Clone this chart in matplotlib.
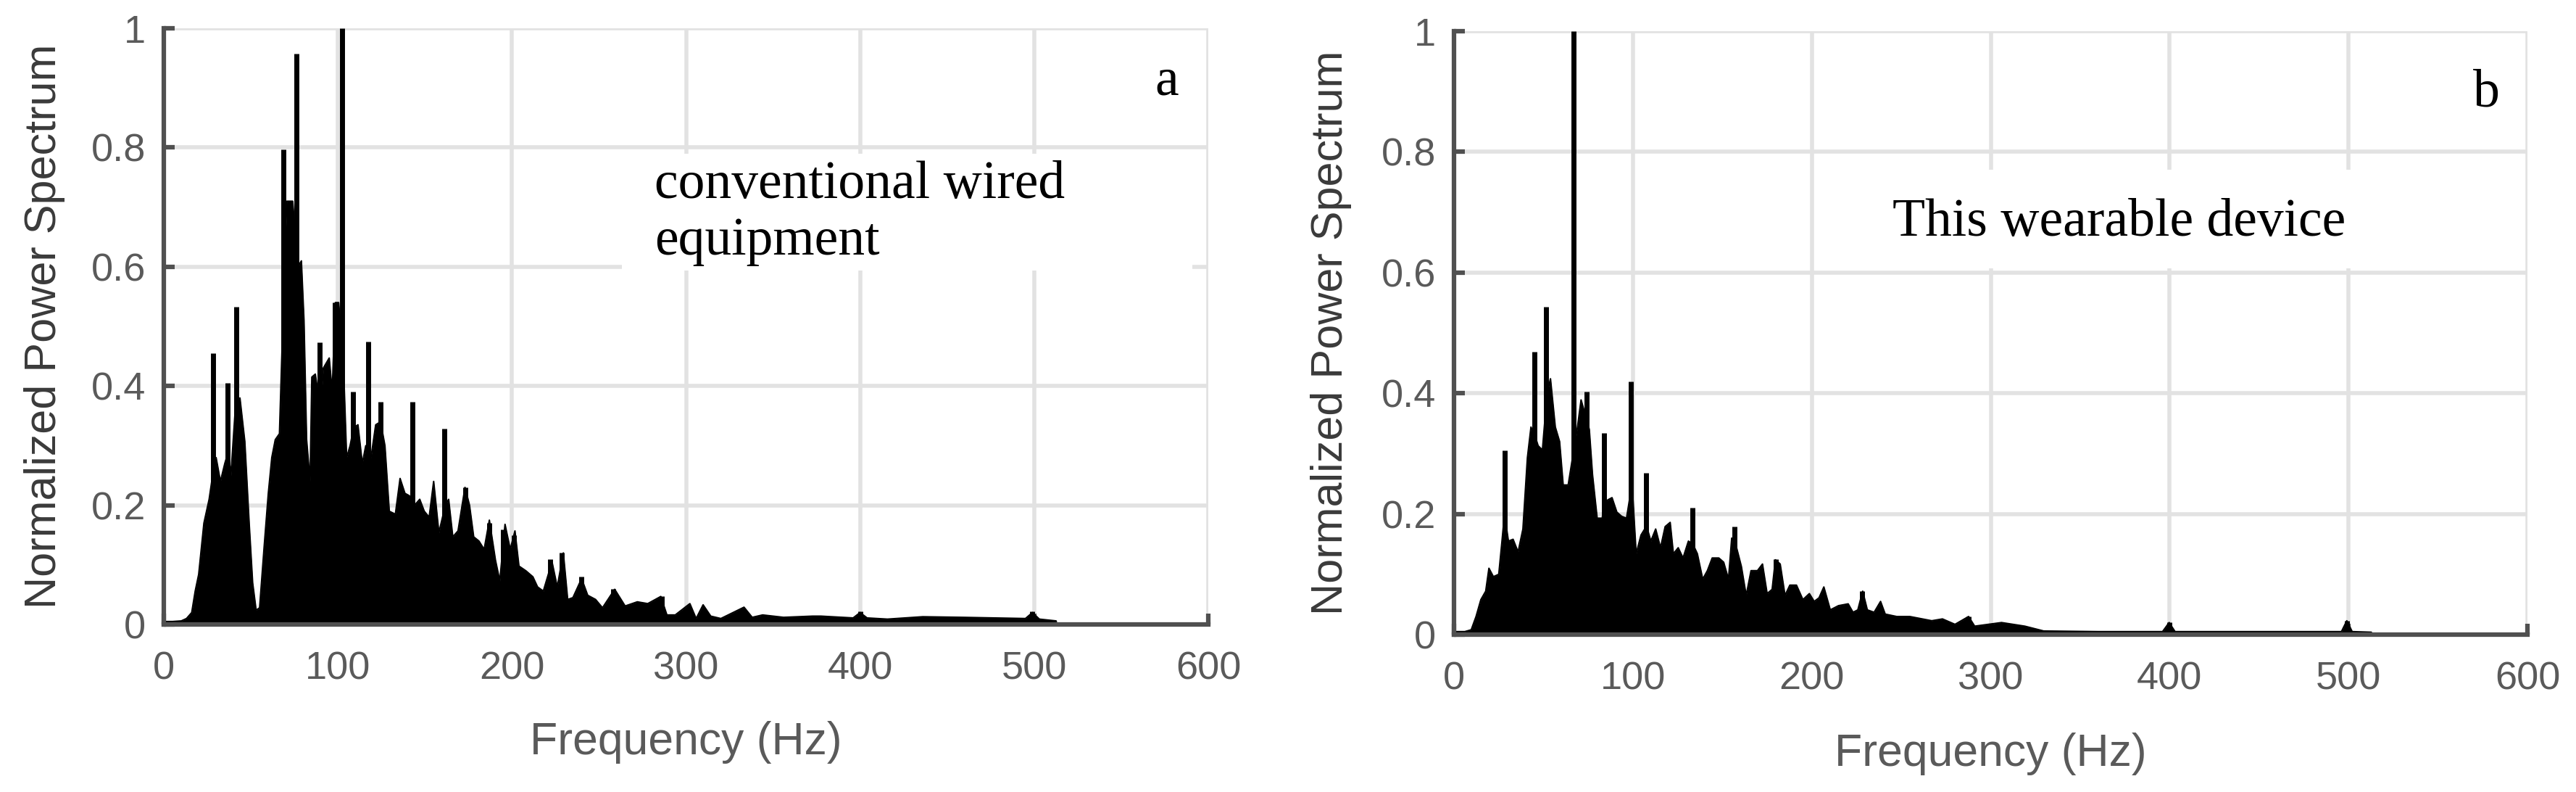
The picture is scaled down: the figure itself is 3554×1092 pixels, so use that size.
import matplotlib
matplotlib.use("Agg")
import matplotlib.pyplot as plt
from matplotlib.patches import Rectangle

# panel a: conventional wired equipment (envelope + narrow peaks)
freq_a = [0, 5, 10, 13, 16, 18, 20, 23, 26, 28, 30, 32.5, 35, 37, 38.5, 41, 43.7, 46.5,
          49, 51, 53, 55, 57.6, 60, 62, 64, 66.4, 68.8, 70.6, 74, 77, 79, 80.5, 82, 84,
          85, 87, 90, 91.6, 95, 96.7, 98.5, 100.4, 103, 105, 107, 109, 111.5, 114, 116,
          119, 121.7, 124.5, 127, 129.5, 133, 135.7, 138.5, 141, 144, 147, 149.6, 152.4,
          155, 158, 161.7, 163.6, 166, 169, 173, 175.6, 178, 181, 184, 187, 190.5, 193,
          196, 199, 201.7, 204, 208, 212, 214.7, 218, 223, 226, 229.5, 232, 235, 240,
          243.5, 248, 252, 259, 265, 272, 278, 285.5, 289, 293.8, 302.2, 305.8, 309.8,
          314.2, 320, 333.3, 338, 344, 356, 372.7, 377.5, 396, 400, 404, 415.7, 436,
          458.8, 495, 499, 503, 512.6, 513]
power_a = [0.005, 0.005, 0.006, 0.01, 0.02, 0.056, 0.084, 0.17, 0.21, 0.25, 0.28, 0.24,
           0.27, 0.29, 0.25, 0.36, 0.38, 0.307, 0.17, 0.07, 0.024, 0.028, 0.13, 0.22,
           0.28, 0.31, 0.32, 0.55, 0.71, 0.71, 0.6, 0.61, 0.51, 0.31, 0.24, 0.415, 0.42,
           0.36, 0.43, 0.447, 0.39, 0.54, 0.54, 0.45, 0.28, 0.3, 0.33, 0.335, 0.27, 0.3,
           0.28, 0.335, 0.34, 0.3, 0.19, 0.185, 0.245, 0.22, 0.216, 0.2, 0.21, 0.19,
           0.18, 0.24, 0.154, 0.2, 0.21, 0.147, 0.157, 0.23, 0.2, 0.147, 0.14, 0.126,
           0.175, 0.108, 0.073, 0.168, 0.126, 0.157, 0.098, 0.09, 0.08, 0.063, 0.056,
           0.105, 0.063, 0.12, 0.042, 0.045, 0.077, 0.049, 0.042, 0.028, 0.059, 0.031,
           0.038, 0.035, 0.047, 0.016, 0.016, 0.035, 0.01, 0.033, 0.014, 0.01, 0.029,
           0.012, 0.016, 0.012, 0.014, 0.014, 0.011, 0.02, 0.011, 0.009, 0.013, 0.012,
           0.01, 0.02, 0.009, 0.006, 0.0]
peak_f_a = [28.2, 36.7, 41.5, 68.7, 76.2, 89.5, 98.3, 102.5, 108.5, 117.5, 124.5, 143,
            161, 173, 187, 195, 201, 222, 228.5, 240, 258, 286, 400, 499]
peak_h_a = [0.455, 0.405, 0.533, 0.797, 0.957, 0.473, 0.54, 1.0, 0.39, 0.475, 0.374,
            0.374, 0.328, 0.23, 0.17, 0.16, 0.15, 0.11, 0.12, 0.08, 0.06, 0.047, 0.022,
            0.022]

# panel b: this wearable device
freq_b = [0, 6, 9.6, 12.3, 15, 17.7, 19.5, 22, 25, 26.8, 28.2, 30.4, 33, 35.8, 38.5, 41,
          43, 45.2, 47, 49.4, 52, 53.9, 56.6, 59, 61, 63.8, 66.6, 69, 71, 73.8, 75.6,
          77.4, 80, 82.8, 84.3, 86.4, 88.3, 91, 93.7, 96.4, 99.5, 101.8, 104.5, 107.6,
          110, 112.7, 115.4, 118, 120.8, 122.6, 125.3, 128, 131, 133.5, 136, 139, 141.6,
          144.3, 148, 150.7, 153.4, 155.2, 157.4, 160.6, 163.3, 166, 169.6, 172.4, 175,
          177.8, 179.6, 182.3, 185, 187.7, 191.4, 195, 198.6, 201.3, 204, 206.7, 210.3,
          214.9, 220.3, 223, 225.7, 228.4, 231, 234.8, 238.4, 241, 247.4, 254.7, 260,
          267, 273, 280, 287.6, 291, 306, 319, 329.6, 360, 396, 399.7, 403, 450, 496,
          499, 502, 512.7, 513]
power_b = [0.005, 0.005, 0.008, 0.03, 0.058, 0.072, 0.11, 0.096, 0.1, 0.155, 0.2, 0.155,
           0.158, 0.137, 0.175, 0.293, 0.344, 0.33, 0.313, 0.306, 0.4, 0.424, 0.344,
           0.32, 0.248, 0.248, 0.3, 0.344, 0.389, 0.36, 0.34, 0.265, 0.193, 0.193, 0.22,
           0.224, 0.227, 0.203, 0.196, 0.193, 0.25, 0.134, 0.165, 0.18, 0.155, 0.175,
           0.144, 0.179, 0.186, 0.134, 0.144, 0.127, 0.155, 0.15, 0.134, 0.092, 0.106,
           0.127, 0.127, 0.12, 0.092, 0.16, 0.15, 0.113, 0.065, 0.106, 0.106, 0.117,
           0.068, 0.075, 0.124, 0.117, 0.065, 0.082, 0.082, 0.058, 0.068, 0.055, 0.061,
           0.079, 0.041, 0.048, 0.051, 0.037, 0.041, 0.072, 0.041, 0.037, 0.055, 0.034,
           0.03, 0.03, 0.027, 0.023, 0.026, 0.017, 0.03, 0.014, 0.02, 0.014, 0.006,
           0.005, 0.005, 0.02, 0.005, 0.005, 0.005, 0.023, 0.005, 0.004, 0.0]
peak_f_b = [28.3, 44.8, 51.6, 66.8, 74, 83.8, 98.8, 107.3, 133.2, 156.6, 180, 228.2,
            287.6, 399.7, 499]
peak_h_b = [0.305, 0.469, 0.543, 1.0, 0.403, 0.334, 0.42, 0.268, 0.21, 0.179, 0.125,
            0.072, 0.03, 0.02, 0.023]

x_ticks = [0, 100, 200, 300, 400, 500, 600]
y_ticks = [0, 0.2, 0.4, 0.6, 0.8, 1]
y_tick_labels = ["0", "0.2", "0.4", "0.6", "0.8", "1"]

sans = ["Liberation Sans", "DejaVu Sans"]
serif = ["Liberation Serif", "DejaVu Serif"]

fig = plt.figure(figsize=(35.55, 10.92), dpi=100)
ax_a = fig.add_axes([0.0636, 0.2115, 0.4053, 0.7527])
ax_b = fig.add_axes([0.5643, 0.1987, 0.4166, 0.7619])


def draw_panel(ax, freq, power, peak_f, peak_h, box, letter, letter_pos, note, note_pos):
    ax.set_xlim(0, 600)
    ax.set_ylim(0, 1)
    ax.grid(True, color="#e2e2e2", lw=4)
    ax.set_axisbelow(True)
    # white box behind the annotation hides the grid
    ax.add_patch(Rectangle((box[0], box[1]), box[2] - box[0], box[3] - box[1],
                           facecolor="white", edgecolor="none", zorder=1.5))
    ax.fill_between(freq, power, color="black", lw=0, zorder=2)
    ax.plot(freq, power, color="black", lw=1.5, zorder=2)
    ax.vlines(peak_f, 0, peak_h, color="black", lw=5, zorder=2)

    for s in ["top", "right"]:
        ax.spines[s].set_visible(False)
    for s in ["left", "bottom"]:
        ax.spines[s].set_color("#505050")
        ax.spines[s].set_linewidth(4.5)
        ax.spines[s].set_zorder(3)

    ax.set_xticks(x_ticks)
    ax.set_yticks(y_ticks)
    ax.set_yticklabels(y_tick_labels)
    ax.tick_params(direction="in", length=11, width=4.5, color="#505050",
                   labelsize=39, labelcolor="#5a5a5a")
    ax.tick_params(axis="x", pad=26)
    ax.tick_params(axis="y", pad=18)
    for lab in ax.get_xticklabels() + ax.get_yticklabels():
        lab.set_family(sans)

    ax.set_xlabel("Frequency (Hz)", fontsize=45, color="#5a5a5a", family=sans, va="center")
    ax.xaxis.set_label_coords(0.5, -0.198)
    ax.set_ylabel("Normalized Power Spectrum", fontsize=44, color="#3a3a3a",
                  family=sans, va="center")
    ax.yaxis.set_label_coords(-0.1145, 0.5)

    ax.text(letter_pos[0], letter_pos[1], letter, fontsize=53, family=serif,
            ha="center", va="center", zorder=4)
    ax.text(note_pos[0], note_pos[1], note, fontsize=53, family=serif,
            ha="left", va="center", zorder=4)


draw_panel(ax_a, freq_a, power_a, peak_f_a, peak_h_a, (263, 0.594, 591, 0.79),
           "a", (576, 0.91), "conventional wired\nequipment", (282, 0.69))
draw_panel(ax_b, freq_b, power_b, peak_f_b, peak_h_b, (235, 0.607, 560, 0.77),
           "b", (577, 0.897), "This wearable device", (245, 0.683))

fig.savefig("out.png", dpi=100)
